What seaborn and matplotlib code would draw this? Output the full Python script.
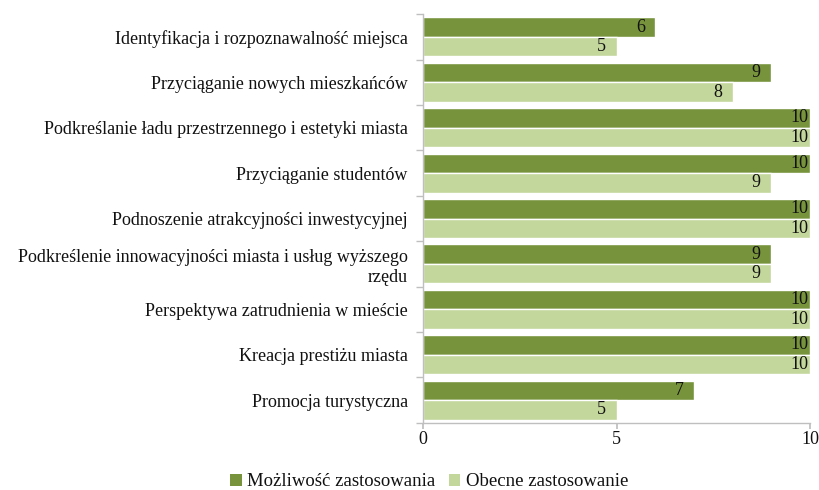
import matplotlib
matplotlib.use("Agg")
import matplotlib.pyplot as plt
import seaborn as sns
import pandas as pd
from matplotlib.patches import Patch

categories = [
    "Identyfikacja i rozpoznawalność miejsca",
    "Przyciąganie nowych mieszkańców",
    "Podkreślanie ładu przestrzennego i estetyki miasta",
    "Przyciąganie studentów",
    "Podnoszenie atrakcyjności inwestycyjnej",
    "Podkreślenie innowacyjności miasta i usług wyższego\nrzędu",
    "Perspektywa zatrudnienia w mieście",
    "Kreacja prestiżu miasta",
    "Promocja turystyczna",
]
series_names = ["Możliwość zastosowania", "Obecne zastosowanie"]
mozliwosc = [6, 9, 10, 10, 10, 9, 10, 10, 7]
obecne = [5, 8, 10, 9, 10, 9, 10, 10, 5]
x_ticks = [0, 5, 10]
colors = ["#77933C", "#C3D69B"]

df = pd.DataFrame({
    "kategoria": categories * 2,
    "wartosc": mozliwosc + obecne,
    "seria": [series_names[0]] * len(categories) + [series_names[1]] * len(categories),
})

sns.set_theme(style="white")
plt.rcParams["font.family"] = ["Liberation Serif", "DejaVu Serif"]

fig = plt.figure(figsize=(8.19, 4.9), dpi=100)
ax = fig.add_axes([0.5165, 0.137, 0.4725, 0.834])

sns.barplot(data=df, y="kategoria", x="wartosc", hue="seria", order=categories,
            hue_order=series_names, palette=colors, orient="h", width=0.86,
            saturation=1, ax=ax, legend=False)

for container in ax.containers:
    ax.bar_label(container, fmt="%d", padding=-14, fontsize=13, color="#111111")

ax.set_xlim(0, 10)
ax.set_xticks(x_ticks)
ax.set_xticklabels([str(t) for t in x_ticks], fontsize=13)
ax.set_xlabel("")
ax.set_ylabel("")
ax.tick_params(axis="y", labelsize=13, length=0, pad=11)
ax.tick_params(axis="x", length=4, color="#bfbfbf", bottom=True, pad=2)
for lbl in ax.get_yticklabels():
    lbl.set_horizontalalignment("right")
    lbl.set_multialignment("right")
    lbl.set_color("#111111")
for lbl in ax.get_xticklabels():
    lbl.set_color("#111111")

# category boundaries marked by short ticks between groups
ax.set_yticks([i - 0.5 for i in range(len(categories) + 1)], minor=True)
ax.tick_params(axis="y", which="minor", length=5, color="#bfbfbf", left=True)

for side in ["top", "right"]:
    ax.spines[side].set_visible(False)
for side in ["left", "bottom"]:
    ax.spines[side].set_color("#bfbfbf")
    ax.spines[side].set_linewidth(1)

handles = [Patch(facecolor=c, edgecolor="none") for c in colors]
fig.legend(handles, series_names, loc="lower center", ncol=2, frameon=False,
           bbox_to_anchor=(0.524, -0.035), fontsize=13.5, handlelength=0.6,
           handleheight=0.6, handletextpad=0.3, columnspacing=0.7,
           labelcolor="#111111")

fig.savefig("out.png", dpi=100)
